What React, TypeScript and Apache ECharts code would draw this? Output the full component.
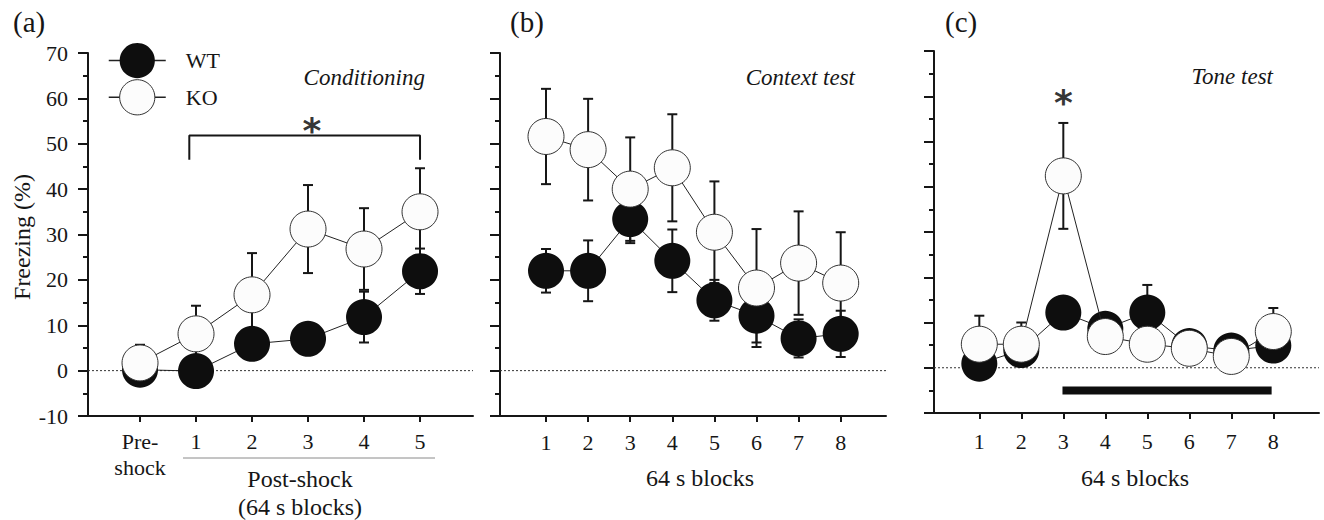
import React, { useEffect, useRef } from "react";
import * as echarts from "echarts";

// ---------- DATA ----------
const condX = [0, 1, 2, 3, 4, 5];
const condTickLabels = ["Pre-\nshock", "1", "2", "3", "4", "5"];
const condWT = [0.2, -0.1, 5.9, 7.0, 11.8, 21.9];
const condWTErr = [1.5, 2.0, 2.0, 2.0, 5.6, 5.0];
const condKO = [1.7, 8.1, 16.7, 31.2, 26.8, 35.0];
const condKOErr = [4.0, 6.2, 9.2, 9.7, 9.0, 9.6];
const condBracket = [[0.88, 46.5], [0.88, 51.8], [5.0, 51.8], [5.0, 46.5]];
const condStar = [[3.07, 54.6]];

const blockX = [1, 2, 3, 4, 5, 6, 7, 8];
const blockTickLabels = ["1", "2", "3", "4", "5", "6", "7", "8"];

const ctxWT = [22.0, 22.0, 33.4, 24.2, 15.5, 12.1, 7.1, 8.1];
const ctxWTErr = [4.8, 6.7, 5.3, 6.9, 4.5, 5.9, 4.2, 5.1];
const ctxKO = [51.6, 48.7, 40.0, 44.7, 30.5, 18.2, 23.7, 19.3];
const ctxKOErr = [10.5, 11.2, 11.4, 11.8, 11.2, 13.0, 11.4, 11.2];

const toneWT = [0.9, 3.9, 12.2, 8.6, 12.2, 4.8, 3.8, 4.9];
const toneWTErr = [2.0, 2.0, 3.5, 3.0, 6.1, 2.0, 2.0, 2.5];
const toneKO = [5.2, 5.2, 42.4, 6.9, 5.2, 4.3, 2.5, 8.0];
const toneKOErr = [6.3, 4.8, 11.7, 3.0, 3.0, 3.0, 3.0, 5.2];
const toneBar = [[2.98, -5], [7.96, -5]];
const toneStar = [[3.0, 60.3]];

const yMin = -10;
const yMax = 70;
const yStep = 10;

// ---------- LAYOUT ----------
const FONT = "Liberation Serif";
const INK = "#161616";

const layout = [
  { grid: { left: 88, top: 53, width: 385, height: 363 }, xMin: -0.929, xMax: 5.946, labelMargin: 12 },
  { grid: { left: 500, top: 53, width: 386, height: 363 }, xMin: -0.093, xMax: 9.076, labelMargin: 13 },
  { grid: { left: 934, top: 51, width: 385, height: 362 }, xMin: -0.079, xMax: 9.088, labelMargin: 15 },
];

const panels = [
  { x: condX, labels: condTickLabels, wt: condWT, wtErr: condWTErr, ko: condKO, koErr: condKOErr },
  { x: blockX, labels: blockTickLabels, wt: ctxWT, wtErr: ctxWTErr, ko: ctxKO, koErr: ctxKOErr },
  { x: blockX, labels: blockTickLabels, wt: toneWT, wtErr: toneWTErr, ko: toneKO, koErr: toneKOErr },
];

const zip = (xs: number[], ys: number[]) => xs.map((x, i) => [x, ys[i]]);
const zip3 = (xs: number[], ys: number[], es: number[]) => xs.map((x, i) => [x, ys[i], es[i]]);

const errorRender = (params: any, api: any) => {
  const x = api.value(0);
  const y = api.value(1);
  const e = api.value(2);
  const top = api.coord([x, y + e]);
  const bot = api.coord([x, y - e]);
  const w = 5;
  const st = { stroke: INK, lineWidth: 2 };
  return {
    type: "group",
    children: [
      { type: "line", shape: { x1: top[0], y1: top[1], x2: bot[0], y2: bot[1] }, style: st },
      { type: "line", shape: { x1: top[0] - w, y1: top[1], x2: top[0] + w, y2: top[1] }, style: st },
      { type: "line", shape: { x1: bot[0] - w, y1: bot[1], x2: bot[0] + w, y2: bot[1] }, style: st },
    ],
  };
};

function buildOption() {
  const grid = layout.map((l) => ({ ...l.grid }));
  const xAxis = panels.map((p, i) => ({
    type: "value",
    gridIndex: i,
    min: layout[i].xMin,
    max: layout[i].xMax,
    axisLine: { show: true, onZero: false, lineStyle: { color: INK, width: 2 } },
    axisTick: { show: true, customValues: p.x, length: 6, lineStyle: { color: INK, width: 2 } },
    axisLabel: {
      show: true,
      customValues: p.x,
      formatter: (v: number) => p.labels[p.x.indexOf(v)] ?? "",
      fontFamily: FONT,
      fontSize: 22,
      lineHeight: 26,
      color: INK,
      margin: layout[i].labelMargin,
    },
    splitLine: { show: false },
  }));
  const yAxis = panels.map((p, i) => ({
    type: "value",
    gridIndex: i,
    min: yMin,
    max: yMax,
    interval: yStep,
    axisLine: { show: true, onZero: false, lineStyle: { color: INK, width: 2 } },
    axisTick: { show: true, length: 10, lineStyle: { color: INK, width: 2 } },
    minorTick: { show: true, splitNumber: 2, length: 5, lineStyle: { color: INK, width: 2 } },
    axisLabel: { show: i === 0, fontFamily: FONT, fontSize: 22, color: INK, margin: 20 },
    splitLine: { show: false },
    minorSplitLine: { show: false },
  }));

  const series: any[] = [];
  panels.forEach((p, i) => {
    const ax = { xAxisIndex: i, yAxisIndex: i };
    series.push({
      type: "line",
      ...ax,
      data: [[layout[i].xMin, 0], [layout[i].xMax, 0]],
      symbol: "none",
      silent: true,
      lineStyle: { color: "#333", width: 1, type: [2, 2] },
      z: 1,
    });
    series.push({
      type: "custom",
      ...ax,
      dimensions: ["x", "y", "e"],
      encode: { x: 0, y: 1 },
      data: zip3(p.x, p.wt, p.wtErr),
      renderItem: errorRender,
      silent: true,
      z: 2,
    });
    series.push({
      type: "custom",
      ...ax,
      dimensions: ["x", "y", "e"],
      encode: { x: 0, y: 1 },
      data: zip3(p.x, p.ko, p.koErr),
      renderItem: errorRender,
      silent: true,
      z: 2,
    });
    series.push({
      name: "WT",
      type: "line",
      ...ax,
      data: zip(p.x, p.wt),
      symbol: "circle",
      symbolSize: 36,
      showSymbol: true,
      showAllSymbol: true,
      itemStyle: { color: "#0e0e0e", borderColor: "#0e0e0e", borderWidth: 0 },
      lineStyle: { color: "#222", width: 1 },
      silent: true,
      z: 3,
    });
    series.push({
      name: "KO",
      type: "line",
      ...ax,
      data: zip(p.x, p.ko),
      symbol: "circle",
      symbolSize: 36,
      showSymbol: true,
      showAllSymbol: true,
      itemStyle: { color: "#fcfcfc", borderColor: "#333", borderWidth: 1 },
      lineStyle: { color: "#222", width: 1 },
      silent: true,
      z: 4,
    });
  });

  // panel a bracket and star
  series.push({
    type: "line",
    xAxisIndex: 0,
    yAxisIndex: 0,
    data: condBracket,
    symbol: "none",
    silent: true,
    lineStyle: { color: INK, width: 2 },
    z: 5,
  });
  const starSeries = (data: number[][], idx: number) => ({
    type: "scatter",
    xAxisIndex: idx,
    yAxisIndex: idx,
    data,
    symbolSize: 1,
    silent: true,
    itemStyle: { color: "rgba(0,0,0,0)" },
    label: {
      show: true,
      position: "inside",
      formatter: "*",
      fontFamily: "DejaVu Sans",
      fontWeight: "bold",
      fontSize: 36,
      color: "#000",
      offset: [0, 8],
    },
    z: 6,
  });
  series.push(starSeries(condStar, 0));
  series.push(starSeries(toneStar, 2));
  series.push({
    type: "line",
    xAxisIndex: 2,
    yAxisIndex: 2,
    data: toneBar,
    symbol: "none",
    silent: true,
    lineStyle: { color: "#0e0e0e", width: 8, cap: "butt" },
    z: 2,
  });

  const txt = (text: string, x: number, y: number, size: number, extra: any = {}) => ({
    type: "text",
    x,
    y,
    silent: true,
    style: {
      text,
      fontFamily: FONT,
      fontSize: size,
      fill: INK,
      verticalAlign: "middle",
      align: "left",
      ...extra,
    },
  });

  const graphic = [
    txt("(a)", 13, 22, 29),
    txt("(b)", 510, 22, 29),
    txt("(c)", 945, 22, 29),
    txt("Conditioning", 425, 77, 23, { align: "right", fontStyle: "italic" }),
    txt("Context test", 855, 77, 23, { align: "right", fontStyle: "italic" }),
    txt("Tone test", 1273, 76, 23, { align: "right", fontStyle: "italic" }),
    {
      type: "text",
      x: 22,
      y: 237,
      rotation: Math.PI / 2,
      silent: true,
      style: {
        text: "Freezing (%)",
        fontFamily: FONT,
        fontSize: 24,
        fill: INK,
        align: "center",
        verticalAlign: "middle",
      },
    },
    txt("Post-shock", 300, 479, 24, { align: "center" }),
    txt("(64 s blocks)", 300, 507, 24, { align: "center" }),
    txt("64 s blocks", 700, 478, 24, { align: "center" }),
    txt("64 s blocks", 1135, 478, 24, { align: "center" }),
    {
      type: "line",
      silent: true,
      shape: { x1: 183, y1: 458, x2: 435, y2: 458 },
      style: { stroke: "#8a8a8a", lineWidth: 1 },
    },
  ];

  return {
    animation: false,
    backgroundColor: "#ffffff",
    grid,
    xAxis,
    yAxis,
    legend: {
      data: [
        { name: "WT", itemStyle: { color: "#0e0e0e", borderColor: "#0e0e0e", borderWidth: 0 } },
        { name: "KO", itemStyle: { color: "#fcfcfc", borderColor: "#333", borderWidth: 1 } },
      ],
      orient: "vertical",
      left: 108,
      top: 43,
      padding: 0,
      itemWidth: 57,
      itemHeight: 44,
      itemGap: 1,
      selectedMode: false,
      lineStyle: { color: "#222", width: 1.5 },
      textStyle: { fontFamily: FONT, fontSize: 22, color: INK, padding: [0, 0, 0, 15] },
    },
    series,
    graphic,
  };
}

export default function App() {
  const ref = useRef<HTMLDivElement>(null);
  useEffect(() => {
    if (!ref.current) return;
    const chart = echarts.init(ref.current, undefined, { renderer: "svg" });
    chart.setOption(buildOption() as any);
    return () => chart.dispose();
  }, []);
  return (
    <div
      ref={ref}
      style={{ position: "absolute", left: 0, top: 0, width: 1324, height: 520, background: "#fff" }}
    />
  );
}
